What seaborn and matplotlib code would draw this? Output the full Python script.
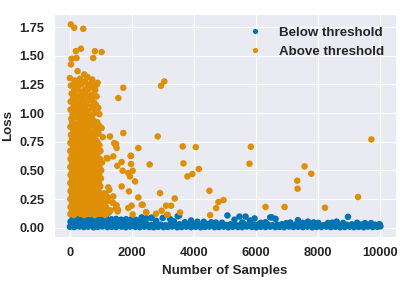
"""
Loss per sample scatter, split by threshold
"""
import matplotlib
matplotlib.use("Agg")
import matplotlib.pyplot as plt
import seaborn as sns
import pandas as pd

groups = ["Below threshold", "Above threshold"]

# low-loss band along the bottom
band_x = [
    0, 140, 310, 450, 590, 760, 900, 1040, 1210, 1350,
    1490, 1660, 1800, 1940, 2110, 2250, 2400, 2560, 2700, 2840,
    3010, 3150, 3290, 3460, 3600, 3750, 3900, 4050, 4210, 4350,
    4490, 4660, 4800, 4950, 5100, 5250, 5410, 5550, 5700, 5860,
    6000, 6150, 6300, 6450, 6610, 6750, 6900, 7060, 7200, 7350,
    7500, 7650, 7810, 7950, 8100, 8260, 8400, 8550, 8700, 8850,
    9010, 9150, 9300, 9460, 9600, 9750, 9900, 10000,
    70, 220, 380, 520, 680, 830, 970, 1120, 1280, 1420,
    1570, 1730, 1870, 2030, 2180, 2330, 2480, 2630, 2770, 2930,
    3080, 3220, 3380, 3530, 3680, 3830, 3970, 4130, 4280, 4420,
    4570, 4730, 4880, 5030, 5170, 5330, 5480, 5630, 5780, 5930,
    6080, 6230, 6380, 6530, 6680, 6830, 6980, 7130, 7280, 7430,
    7580, 7730, 7880, 8030, 8180, 8330, 8480, 8630, 8780, 8930,
    9080, 9230, 9380, 9530, 9680, 9830, 9960,
    20, 170, 330, 480, 640, 790, 950, 1100, 1260, 1410, 1570, 1720, 1880, 2040, 2200, 2360,
    90, 250, 400, 560, 710, 870, 1020, 1180, 1340, 1490, 1650, 1810, 1960, 2130,
]
band_y = [
    0.008, 0.005, 0.010, 0.006, 0.009, 0.004, 0.007, 0.011, 0.005, 0.008,
    0.006, 0.009, 0.004, 0.010, 0.007, 0.005, 0.009, 0.006, 0.004, 0.008,
    0.005, 0.007, 0.010, 0.004, 0.006, 0.009, 0.005, 0.008, 0.004, 0.007,
    0.010, 0.005, 0.006, 0.009, 0.004, 0.008, 0.006, 0.005, 0.010, 0.007,
    0.004, 0.008, 0.006, 0.009, 0.005, 0.007, 0.004, 0.010, 0.006, 0.008,
    0.005, 0.009, 0.004, 0.007, 0.006, 0.010, 0.005, 0.008, 0.004, 0.006,
    0.009, 0.005, 0.007, 0.004, 0.010, 0.006, 0.008, 0.012,
    0.028, 0.025, 0.031, 0.024, 0.027, 0.030, 0.023, 0.029, 0.026, 0.032,
    0.024, 0.028, 0.025, 0.030, 0.023, 0.027, 0.031, 0.024, 0.029, 0.026,
    0.022, 0.028, 0.025, 0.030, 0.024, 0.027, 0.023, 0.029, 0.026, 0.031,
    0.025, 0.022, 0.028, 0.024, 0.030, 0.026, 0.023, 0.029, 0.025, 0.027,
    0.031, 0.024, 0.028, 0.022, 0.027, 0.030, 0.025, 0.023, 0.029, 0.026,
    0.024, 0.028, 0.031, 0.025, 0.022, 0.027, 0.030, 0.024, 0.028, 0.025,
    0.029, 0.023, 0.027, 0.031, 0.024, 0.026, 0.028,
    0.052, 0.048, 0.055, 0.050, 0.046, 0.054, 0.049, 0.053, 0.047, 0.051, 0.055, 0.048, 0.052, 0.046, 0.050, 0.049,
    0.078, 0.074, 0.080, 0.076, 0.072, 0.079, 0.075, 0.081, 0.073, 0.077, 0.070, 0.074, 0.071, 0.068,
]

# blue bumps sticking out of the band
bump_x = [
    2312, 2460, 2613, 2634, 2989, 3226, 3473, 3516, 3903, 4107,
    4312, 4700, 5075, 5301, 5461, 5656, 5946, 6300, 6452, 6505,
    6624, 6968, 7344, 7667, 8000, 8312, 8590, 8957, 9500, 9978,
    2780, 3350, 3700, 4550, 4900, 5550, 5800, 6150, 7100, 7500,
    7850, 8450, 8800, 9250, 9700,
]
bump_y = [
    0.090, 0.082, 0.085, 0.087, 0.085, 0.076, 0.100, 0.105, 0.063, 0.052,
    0.052, 0.045, 0.107, 0.070, 0.097, 0.097, 0.081, 0.048, 0.090, 0.090,
    0.077, 0.040, 0.066, 0.053, 0.042, 0.041, 0.053, 0.095, 0.040, 0.030,
    0.060, 0.055, 0.048, 0.047, 0.044, 0.046, 0.062, 0.043, 0.045, 0.042,
    0.046, 0.044, 0.041, 0.043, 0.040,
]

# dense high-loss cluster in the first ~1200 samples
cluster_x = [
    15, 125, 240, 345, 460, 575, 690, 795, 905, 1020, 1135, 1250,
    70, 185, 295, 410, 525, 635, 745, 860, 975, 1085, 1195, 1310,
    20, 135, 245, 360, 470, 585, 700, 810, 925, 1040, 1160,
    65, 175, 290, 400, 515, 630, 740, 850, 965, 1080, 1210,
    15, 125, 235, 350, 465, 575, 690, 800, 915, 1030,
    70, 180, 295, 405, 520, 640, 750, 865, 980, 1100,
    20, 130, 245, 355, 470, 590, 700, 815, 925,
    65, 175, 290, 400, 515, 630, 745, 860, 980,
    15, 125, 240, 350, 465, 580, 695, 810, 935,
    70, 185, 300, 410, 525, 645, 760, 880, 1000,
    20, 130, 245, 360, 475, 590, 710, 830, 945,
    70, 185, 300, 415, 530, 650, 770, 890, 1010,
    15, 130, 245, 360, 480, 600, 715, 835, 950,
    70, 185, 305, 420, 540, 655, 775, 895, 1040,
    20, 135, 250, 370, 485, 605, 725, 850, 970,
    60, 170, 300, 440, 545, 660, 800, 905,
    10, 125, 240, 360, 490, 610, 720, 860, 985,
    95, 215, 335, 430, 590, 700, 830, 950,
    15, 130, 280, 370, 500, 655, 750, 880,
    70, 190, 345, 470, 560, 725, 825, 1060,
    35, 160, 255, 420, 520, 640, 800, 925,
    110, 200, 330, 460, 610, 745, 870,
    15, 165, 270, 400, 560, 665, 830, 940,
    80, 240, 345, 505, 610, 780, 880,
    45, 150, 310, 425, 590, 700,
    85, 250, 360, 530, 640, 790, 950,
    20, 185, 295, 470, 585, 760,
    120, 235, 410, 530, 715, 845,
    25, 165, 345, 465, 655, 785,
    100, 280, 400, 595, 725,
    55, 180, 370, 505, 705,
    140, 265, 470, 605, 815,
    30, 230, 375, 575,
    150, 295, 495,
]
cluster_y = [
    0.12, 0.11, 0.13, 0.12, 0.11, 0.12, 0.13, 0.11, 0.12, 0.12, 0.11, 0.13,
    0.15, 0.16, 0.15, 0.14, 0.16, 0.15, 0.15, 0.16, 0.14, 0.15, 0.16, 0.15,
    0.18, 0.19, 0.18, 0.19, 0.18, 0.19, 0.18, 0.19, 0.18, 0.19, 0.18,
    0.22, 0.23, 0.22, 0.21, 0.23, 0.22, 0.22, 0.23, 0.21, 0.22, 0.23,
    0.25, 0.26, 0.25, 0.26, 0.25, 0.26, 0.25, 0.26, 0.25, 0.26,
    0.29, 0.29, 0.30, 0.28, 0.29, 0.30, 0.29, 0.28, 0.29, 0.30,
    0.32, 0.33, 0.32, 0.33, 0.32, 0.33, 0.32, 0.33, 0.32,
    0.36, 0.35, 0.36, 0.37, 0.36, 0.35, 0.36, 0.37, 0.36,
    0.39, 0.40, 0.39, 0.40, 0.39, 0.40, 0.39, 0.40, 0.39,
    0.43, 0.43, 0.42, 0.44, 0.43, 0.42, 0.43, 0.44, 0.43,
    0.46, 0.47, 0.46, 0.47, 0.46, 0.47, 0.46, 0.47, 0.46,
    0.50, 0.49, 0.50, 0.51, 0.50, 0.49, 0.50, 0.51, 0.50,
    0.53, 0.54, 0.53, 0.54, 0.53, 0.54, 0.53, 0.54, 0.53,
    0.57, 0.57, 0.56, 0.58, 0.57, 0.56, 0.57, 0.58, 0.57,
    0.60, 0.61, 0.60, 0.61, 0.60, 0.61, 0.60, 0.61, 0.60,
    0.64, 0.64, 0.63, 0.65, 0.64, 0.63, 0.64, 0.65,
    0.67, 0.68, 0.67, 0.68, 0.67, 0.68, 0.67, 0.68, 0.67,
    0.71, 0.70, 0.71, 0.72, 0.71, 0.70, 0.71, 0.72,
    0.74, 0.75, 0.74, 0.75, 0.74, 0.75, 0.74, 0.75,
    0.78, 0.79, 0.78, 0.77, 0.79, 0.78, 0.77, 0.79,
    0.81, 0.82, 0.81, 0.82, 0.81, 0.82, 0.81, 0.82,
    0.85, 0.84, 0.85, 0.86, 0.85, 0.84, 0.86,
    0.88, 0.89, 0.88, 0.89, 0.88, 0.89, 0.88, 0.89,
    0.92, 0.91, 0.93, 0.92, 0.91, 0.93, 0.92,
    0.95, 0.96, 0.95, 0.96, 0.95, 0.96,
    0.99, 0.98, 1.00, 0.99, 0.98, 1.00, 0.99,
    1.03, 1.02, 1.04, 1.03, 1.02, 1.04,
    1.06, 1.07, 1.06, 1.07, 1.06, 1.07,
    1.10, 1.11, 1.09, 1.10, 1.11, 1.09,
    1.13, 1.14, 1.13, 1.14, 1.13,
    1.17, 1.16, 1.18, 1.17, 1.16,
    1.20, 1.21, 1.20, 1.21, 1.20,
    1.24, 1.23, 1.25, 1.24,
    1.27, 1.26, 1.28,
]

# scattered high-loss points
above_x = [
    32, 140, 430, 194, 355, 806, 1022, 752, 54, 215,
    32, 247, 462, 570, 720, 892, 0, 161, 322, 677,
    1720, 1559, 2935, 3043, 699, 860, 860, 914, 1720, 1290,
    2828, 1430, 1022, 1505, 2204, 1968, 1398, 1183, 1667, 1699,
    1968, 2022, 2097, 1903, 1667, 1237, 1151, 1237, 1398, 1484,
    1538, 1989, 1882, 2344, 1215, 1527, 1957, 2570, 1882, 1935,
    2204, 2022, 2452, 2774, 2903, 2957, 3097, 3258, 3376, 3151,
    3548, 3634, 3656, 3785, 3946, 4054, 4151, 4494, 1268, 1366,
    1505, 1548, 1398, 1484, 2462, 3129, 4785, 4946, 4710, 4516,
    6300, 5828, 5784, 9710, 7559, 7774, 7323, 7333, 9280, 6914,
    8215, 1452, 2312,
]
above_y = [
    1.773, 1.744, 1.735, 1.540, 1.561, 1.540, 1.532, 1.480, 1.473, 1.480,
    1.424, 1.366, 1.337, 1.314, 1.293, 1.264, 1.305, 1.284, 1.299, 1.255,
    1.221, 1.131, 1.238, 1.276, 1.232, 1.247, 1.145, 1.044, 0.826, 0.796,
    0.796, 0.738, 0.869, 0.695, 0.695, 0.628, 0.622, 0.608, 0.573, 0.497,
    0.555, 0.497, 0.404, 0.317, 0.360, 0.352, 0.294, 0.264, 0.215, 0.172,
    0.142, 0.192, 0.172, 0.200, 0.604, 0.540, 0.625, 0.552, 0.477, 0.447,
    0.264, 0.116, 0.137, 0.122, 0.302, 0.148, 0.192, 0.192, 0.255, 0.113,
    0.133, 0.709, 0.561, 0.447, 0.468, 0.703, 0.512, 0.322, 0.331, 0.220,
    0.194, 0.157, 0.273, 0.730, 0.134, 0.113, 0.224, 0.241, 0.171, 0.110,
    0.181, 0.706, 0.558, 0.770, 0.535, 0.471, 0.410, 0.340, 0.268, 0.181,
    0.174, 0.730, 0.200,
]


def main():
    sns.set_style("darkgrid")
    plt.rcParams["font.family"] = ["Liberation Sans", "DejaVu Sans"]
    plt.rcParams["font.weight"] = "bold"
    plt.rcParams["axes.labelweight"] = "bold"

    below_x = band_x + bump_x
    below_y = band_y + bump_y
    high_x = cluster_x + above_x
    high_y = cluster_y + above_y

    df = pd.DataFrame({
        "samples": below_x + high_x,
        "loss": below_y + high_y,
        "group": [groups[0]] * len(below_x) + [groups[1]] * len(high_x),
    })

    fig, ax = plt.subplots(figsize=(4.15, 2.86), dpi=100)
    fig.subplots_adjust(left=0.131, right=0.954, bottom=0.170, top=0.950)

    sns.scatterplot(
        data=df, x="samples", y="loss", hue="group", hue_order=groups,
        palette=sns.color_palette("colorblind", 2), s=22, linewidth=0, ax=ax,
    )
    ax.set_xlabel("Number of Samples", fontsize=9.6)
    ax.set_ylabel("Loss", fontsize=9.6)
    ax.tick_params(labelsize=9.3)
    sns.move_legend(ax, "upper right", frameon=False, title=None, fontsize=9.6,
                    markerscale=0.8)

    fig.savefig("out.png", dpi=100)


if __name__ == "__main__":
    main()
